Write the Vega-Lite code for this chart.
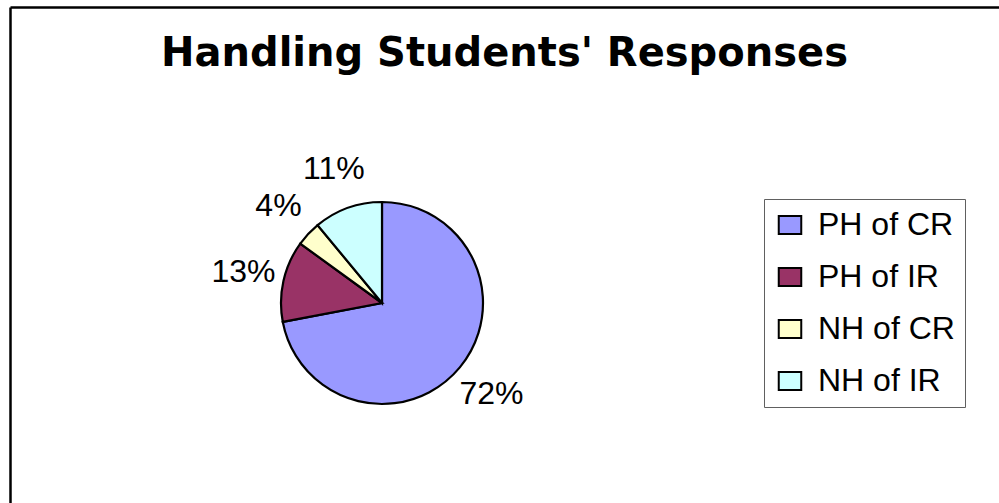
{
  "$schema": "https://vega.github.io/schema/vega-lite/v6.json",
  "width": 989,
  "height": 496,
  "autosize": {"type": "none"},
  "padding": {"left": 10, "top": 7, "right": 0, "bottom": 0},
  "background": "white",
  "title": {
    "text": "Handling Students' Responses",
    "font": "DejaVu Sans",
    "fontSize": 40,
    "fontWeight": "bold",
    "color": "black",
    "anchor": "middle",
    "frame": "group",
    "offset": -99,
    "baseline": "alphabetic"
  },
  "config": {"view": {"stroke": null}},
  "data": {
    "values": [
      {"category": "PH of CR", "share": 0.72, "k": 1},
      {"category": "PH of IR", "share": 0.13, "k": 2},
      {"category": "NH of CR", "share": 0.04, "k": 3},
      {"category": "NH of IR", "share": 0.11, "k": 4}
    ]
  },
  "encoding": {
    "x": {
      "datum": 372,
      "type": "quantitative",
      "scale": {"domain": [0, 989], "nice": false, "zero": false},
      "axis": {"orient": "top", "domain": true, "domainColor": "black", "domainWidth": 2.5, "ticks": false, "labels": false, "grid": false, "title": null}
    },
    "y": {
      "datum": 296,
      "type": "quantitative",
      "scale": {"domain": [0, 496], "nice": false, "zero": false, "reverse": true},
      "axis": {"orient": "left", "domain": true, "domainColor": "black", "domainWidth": 2.5, "ticks": false, "labels": false, "grid": false, "title": null}
    },
    "theta": {"field": "share", "type": "quantitative", "stack": true},
    "order": {"field": "k", "type": "quantitative"}
  },
  "layer": [
    {
      "mark": {"type": "arc", "outerRadius": 101, "stroke": "black", "strokeWidth": 2.2},
      "encoding": {
        "color": {
          "field": "category",
          "type": "nominal",
          "scale": {
            "domain": ["PH of CR", "PH of IR", "NH of CR", "NH of IR"],
            "range": ["#9999FF", "#993366", "#FFFFCC", "#CCFFFF"]
          },
          "legend": {
            "orient": "none",
            "legendX": 754,
            "legendY": 192,
            "title": null,
            "strokeColor": "#606060",
            "fillColor": "white",
            "padding": 10,
            "labelFont": "Liberation Sans",
            "labelFontSize": 32,
            "labelColor": "black",
            "labelOffset": 12,
            "symbolType": "M-1.25,-1L1.25,-1L1.25,1L-1.25,1Z",
            "symbolSize": 324,
            "symbolStrokeColor": "black",
            "symbolStrokeWidth": 2,
            "symbolOpacity": 1,
            "rowPadding": 20
          }
        }
      }
    },
    {
      "mark": {"type": "text", "radius": 142, "font": "Liberation Sans", "fontSize": 32, "color": "black"},
      "encoding": {
        "text": {"field": "share", "type": "quantitative", "format": ".0%"}
      }
    }
  ]
}
